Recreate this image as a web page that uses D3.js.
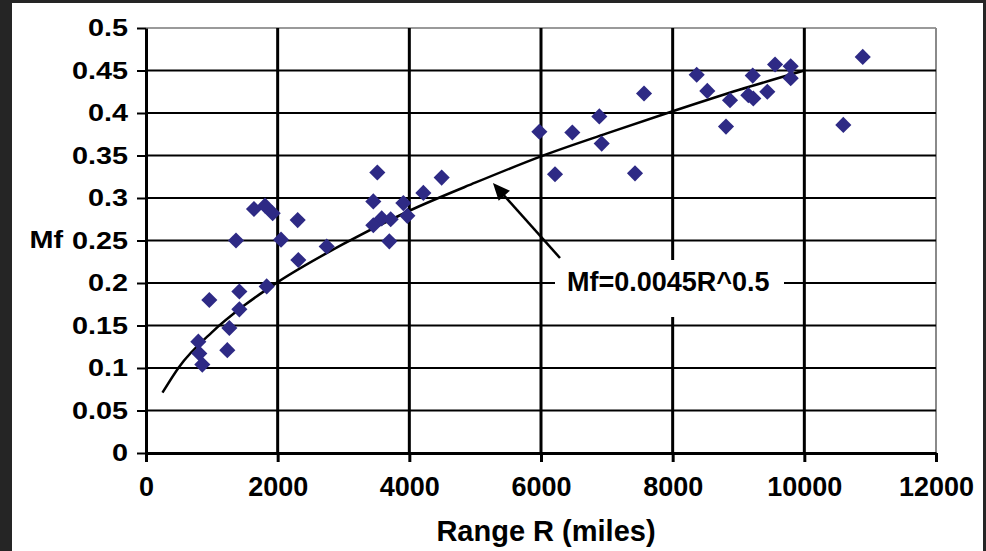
<!DOCTYPE html>
<html>
<head>
<meta charset="utf-8">
<script src="https://cdn.jsdelivr.net/npm/d3@7"></script>
<style>
  html, body { margin: 0; padding: 0; background: #252525; }
  svg { display: block; }
  text { font-family: "Liberation Sans", Arial, sans-serif; font-weight: bold; fill: #000; }
</style>
</head>
<body>
<div id="chart"></div>
<script>
// data
const rangeMiles = [795, 810, 855, 962, 1235, 1266, 1367, 1418, 1418, 1640, 1808, 1833, 1924, 2051,
  2304, 2314, 2745, 3453, 3453, 3514, 3580, 3696, 3717, 3909, 3970, 4213, 4491,
  5975, 6213, 6476, 6886, 6922, 7428, 7565, 8365, 8526, 8810, 8871, 9149, 9216, 9225,
  9438, 9555, 9793, 9793, 10592, 10887];
const massFraction = [0.131, 0.117, 0.104, 0.18, 0.121, 0.147, 0.25, 0.19, 0.169, 0.287, 0.291, 0.196, 0.282, 0.251,
  0.274, 0.227, 0.243, 0.296, 0.268, 0.33, 0.276, 0.249, 0.275, 0.294, 0.279, 0.306, 0.324,
  0.378, 0.328, 0.377, 0.396, 0.364, 0.329, 0.423, 0.445, 0.426, 0.384, 0.415, 0.421, 0.444, 0.417,
  0.425, 0.457, 0.455, 0.441, 0.386, 0.466];

// trend line Mf=0.0045R^0.5
const fitR = [250, 500, 1000, 1500, 2000, 3000, 4000, 5000, 6000, 7000, 8000, 9000, 10000];
const fitMf = [0.071, 0.101, 0.142, 0.174, 0.201, 0.246, 0.285, 0.318, 0.349, 0.376, 0.402, 0.427, 0.45];

const xTicks = [0, 2000, 4000, 6000, 8000, 10000, 12000];
const yTicks = [0, 0.05, 0.1, 0.15, 0.2, 0.25, 0.3, 0.35, 0.4, 0.45, 0.5];
const fitLabel = "Mf=0.0045R^0.5";

const WIDTH = 986, HEIGHT = 551;
const PLOT = {left: 146, right: 936, top: 28, bottom: 453};
const DOT = "#2E2A85";
const YSTRETCH = 1.2;

const svg = d3.select('#chart').append('svg')
  .attr('width', WIDTH)
  .attr('height', HEIGHT);

// white page inside dark frame
svg.append('rect')
  .attr('x', 12).attr('y', 3)
  .attr('width', 971).attr('height', HEIGHT - 3)
  .attr('fill', '#fff');

const x = d3.scaleLinear().domain([0, 12000]).range([PLOT.left, PLOT.right]);
const y = d3.scaleLinear().domain([0, 0.5]).range([PLOT.bottom, PLOT.top]);

// plot border (top and right light)
svg.append('line')
  .attr('x1', x(0)).attr('x2', x(12000)).attr('y1', y(0.5)).attr('y2', y(0.5))
  .attr('stroke', '#9a9a9a').attr('stroke-width', 2);
svg.append('line')
  .attr('x1', x(12000)).attr('x2', x(12000)).attr('y1', y(0.5)).attr('y2', y(0))
  .attr('stroke', '#8a8a8a').attr('stroke-width', 2);

// gridlines
svg.append('g').selectAll('line')
  .data(yTicks.filter(d => d > 0 && d < 0.5))
  .join('line')
  .attr('x1', x(0)).attr('x2', x(12000))
  .attr('y1', d => y(d)).attr('y2', d => y(d))
  .attr('stroke', '#000').attr('stroke-width', 2);

svg.append('g').selectAll('line')
  .data(xTicks.filter(d => d > 0 && d < 12000))
  .join('line')
  .attr('y1', y(0.5)).attr('y2', y(0))
  .attr('x1', d => x(d)).attr('x2', d => x(d))
  .attr('stroke', '#000').attr('stroke-width', 3);

// axes
const xAxis = svg.append('g')
  .attr('transform', `translate(0,${PLOT.bottom})`)
  .call(d3.axisBottom(x).tickValues(xTicks).tickSize(9).tickSizeOuter(0).tickPadding(15).tickFormat(d3.format('d')));
xAxis.select('.domain').attr('stroke', '#000').attr('stroke-width', 3);
xAxis.selectAll('.tick line').attr('stroke', '#000').attr('stroke-width', 3);
xAxis.selectAll('.tick text')
  .attr('font-size', 27)
  .attr('fill', '#000');

const yAxis = svg.append('g')
  .attr('transform', `translate(${PLOT.left},0)`)
  .call(d3.axisLeft(y).tickValues(yTicks).tickSize(9).tickSizeOuter(0).tickFormat(d => String(d)));
yAxis.select('.domain').attr('stroke', '#000').attr('stroke-width', 3);
yAxis.selectAll('.tick line').attr('stroke', '#000').attr('stroke-width', 2);
// tick labels look stretched sideways in the source
yAxis.selectAll('.tick text')
  .attr('x', -18 / YSTRETCH)
  .attr('transform', `scale(${YSTRETCH},1)`)
  .attr('font-size', 24)
  .attr('fill', '#000');

// axis titles
svg.append('text')
  .attr('transform', `translate(63,${y(0.25)}) scale(${YSTRETCH},1)`)
  .attr('text-anchor', 'end')
  .attr('dy', '0.32em')
  .attr('font-size', 24)
  .text('Mf');

svg.append('text')
  .attr('x', 546).attr('y', 541)
  .attr('text-anchor', 'middle')
  .attr('font-size', 29)
  .text('Range R (miles)');

// trend line
svg.append('path')
  .datum(fitR.map((r, i) => [r, fitMf[i]]))
  .attr('fill', 'none')
  .attr('stroke', '#000')
  .attr('stroke-width', 2.5)
  .attr('d', d3.line().x(d => x(d[0])).y(d => y(d[1])).curve(d3.curveMonotoneX));

// data points (diamonds)
const diamond = d3.symbol(d3.symbolSquare, 130);
svg.append('g').selectAll('path')
  .data(rangeMiles.map((r, i) => [r, massFraction[i]]))
  .join('path')
  .attr('d', diamond)
  .attr('transform', d => `translate(${x(d[0])},${y(d[1])}) rotate(45)`)
  .attr('fill', DOT);

// annotation box, arrow and label
svg.append('rect')
  .attr('x', 555).attr('y', 260)
  .attr('width', 229).attr('height', 57)
  .attr('fill', '#fff');

const arrowTip = [x(5270), y(0.3176)];
const arrowTail = [560, 258];
const ang = Math.atan2(arrowTip[1] - arrowTail[1], arrowTip[0] - arrowTail[0]);
svg.append('line')
  .attr('x1', arrowTail[0]).attr('y1', arrowTail[1])
  .attr('x2', arrowTip[0] - 10 * Math.cos(ang)).attr('y2', arrowTip[1] - 10 * Math.sin(ang))
  .attr('stroke', '#000').attr('stroke-width', 2.5);
svg.append('path')
  .attr('d', 'M0,0 L-17,-7.5 L-17,7.5 Z')
  .attr('transform', `translate(${arrowTip[0]},${arrowTip[1]}) rotate(${ang * 180 / Math.PI})`)
  .attr('fill', '#000');

svg.append('text')
  .attr('x', 567).attr('y', 291)
  .attr('font-size', 27)
  .text(fitLabel);
</script>
</body>
</html>
